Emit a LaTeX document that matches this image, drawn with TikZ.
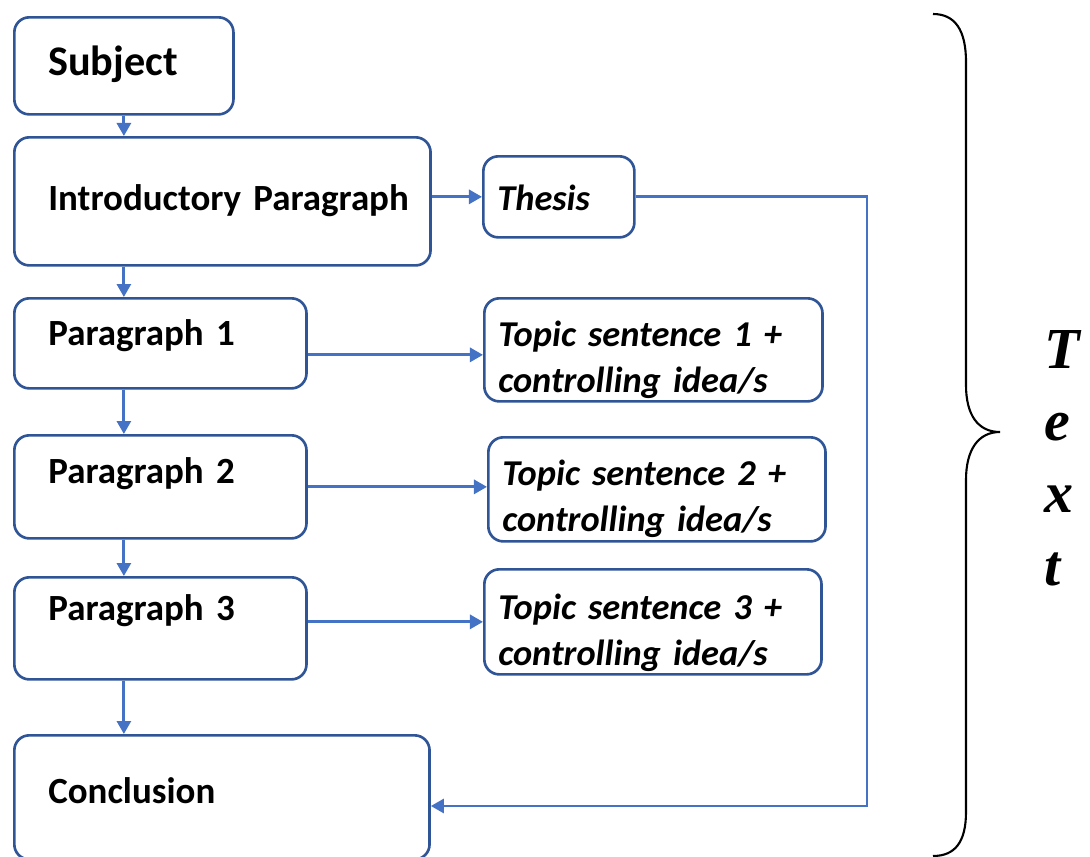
\documentclass[tikz,border=0pt]{standalone}
\usepackage{fontspec}
\setmainfont{Carlito}
\newfontfamily\bracefont{Liberation Serif}
\usetikzlibrary{arrows.meta}
\definecolor{boxblue}{RGB}{47,85,151}
\definecolor{lineblue}{RGB}{68,114,196}

\begin{document}
\begin{tikzpicture}[x=0.01cm,y=-0.01cm,
		box/.style={draw=boxblue,line width=0.75pt,rounded corners=0.15cm,anchor=north west,align=left,inner ysep=0pt,font=\bfseries\fontsize{10.5}{13.1}\selectfont},
		leftbox/.style={box,inner xsep=0.34cm},
		rightbox/.style={box,inner xsep=0.14cm,font=\bfseries\itshape\fontsize{10.35}{13.1}\selectfont},
		link/.style={draw=lineblue,line width=0.8pt,-{Triangle[length=0.13cm,width=0.14cm]}}]
			\useasboundingbox (0,0) rectangle (1090,857);
			
			\node[leftbox,text width=1.51cm,text height=0.58cm,text depth=0.39cm,font=\bfseries\fontsize{12}{14}\selectfont] (subj) at (13,16) {Subject};
			\node[leftbox,text width=3.48cm,text height=0.73cm,text depth=0.55cm] (intro) at (13,136) {\mbox{Introductory Paragraph}};
			\node[leftbox,text width=2.24cm,text height=0.47cm,text depth=0.43cm] (para1) at (13,297) {Paragraph 1};
			\node[leftbox,text width=2.24cm,text height=0.48cm,text depth=0.55cm] (para2) at (13,434) {Paragraph 2};
			\node[leftbox,text width=2.24cm,text height=0.43cm,text depth=0.59cm] (para3) at (13,576) {Paragraph 3};
			\node[leftbox,text width=3.47cm,text height=0.68cm,text depth=0.56cm] (concl) at (13,734) {Conclusion};
			
			\node[rightbox,text width=1.23cm,text height=0.54cm,text depth=0.27cm] (thesis) at (482,155) {Thesis};
			\node[rightbox,text width=3.10cm,text height=0.48cm,text depth=0.55cm] (topic1) at (483,297) {Topic sentence 1 +\\controlling idea/s};
			\node[rightbox,text width=3.09cm,text height=0.48cm,text depth=0.56cm] (topic2) at (487,436) {Topic sentence 2 +\\controlling idea/s};
			\node[rightbox,text width=3.09cm,text height=0.50cm,text depth=0.55cm] (topic3) at (483,568) {Topic sentence 3 +\\controlling idea/s};
			
			\foreach \a/\b in {subj/intro,intro/para1,para1/para2,para2/para3,para3/concl}
			\draw[link] (subj.south |- \a.south) -- (subj.south |- \b.north);
			
			\draw[link] (intro.east |- thesis.west) -- (thesis.west);
			\draw[link] ([yshift=-0.05cm]para1.east |- topic1.west) -- ([yshift=-0.05cm]topic1.west);
			\draw[link] (para2.east) -- (para2.east -| topic2.west);
			\draw[link] (para3.east |- topic3.west) -- (topic3.west);
			
			\coordinate (back) at (867,806);
			\draw[link] (thesis.east) -| (back) -- (back -| concl.east);
			
			\draw[line width=0.6pt] (933,14) .. controls (955,14) and (966,30) .. (966,62) -- (966,385) .. controls (966,415) and (978,432) .. (1000,432) .. controls (978,432) and (966,450) .. (966,480) -- (966,812) .. controls (966,842) and (955,856) .. (933,856);
			\node[anchor=base west,inner sep=0pt,align=left,font=\bracefont\bfseries\itshape\fontsize{16.5}{20.5}\selectfont] (txt) at (1044,585) {T\\e\\x\\t};
		\end{tikzpicture}
\end{document}
